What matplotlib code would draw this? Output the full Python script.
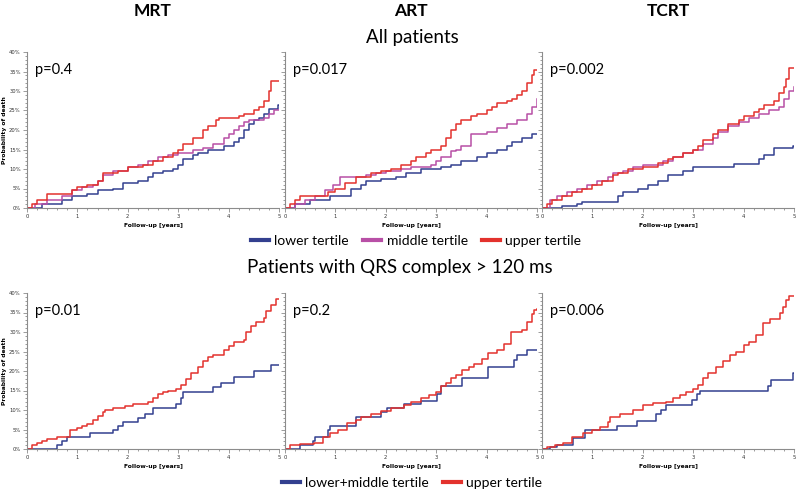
import numpy as np
import matplotlib.pyplot as plt
from matplotlib.ticker import MultipleLocator, FuncFormatter

# ---- data (cumulative probability of death, %, step functions) ----
# All patients, MRT
mrt_low_t = [0, 0.3, 0.7, 0.9, 1.2, 1.4, 1.7, 1.9, 2.2, 2.4, 2.5, 2.7, 2.9, 3.0, 3.1, 3.3, 3.4, 3.6, 3.9, 4.1, 4.2, 4.3, 4.4, 4.5, 4.6, 4.7, 4.8, 4.98, 5.0]
mrt_low_y = [0, 1, 2, 3, 3.5, 4.5, 5, 6.5, 7, 8, 9, 9.5, 10, 11, 12.5, 13.5, 14, 15, 16, 17, 18, 20, 21.5, 22.5, 23, 24, 25.5, 26.5, 26.5]
mrt_mid_t = [0, 0.15, 0.4, 0.7, 0.9, 1.1, 1.3, 1.4, 1.5, 1.7, 2.0, 2.2, 2.4, 2.6, 2.8, 3.0, 3.3, 3.5, 3.7, 3.9, 4.0, 4.1, 4.2, 4.3, 4.4, 4.7, 4.8, 4.9, 5.0]
mrt_mid_y = [0, 1, 2, 3, 4.5, 5.5, 6, 7, 8.5, 9.5, 10.5, 11, 12, 13, 13.5, 14, 15, 15.5, 16.5, 18, 19, 20, 21, 22, 22.5, 23, 24, 25, 25]
mrt_up_t = [0, 0.1, 0.2, 0.4, 0.9, 1.0, 1.2, 1.4, 1.5, 1.8, 2.0, 2.3, 2.5, 2.7, 2.9, 3.0, 3.1, 3.3, 3.5, 3.6, 3.75, 3.8, 4.2, 4.3, 4.5, 4.6, 4.7, 4.8, 4.85, 5.0]
mrt_up_y = [0, 1, 2, 3.5, 4.5, 5.5, 6, 7, 9, 9.5, 10.5, 11, 12, 13, 14, 15, 16.5, 18, 20, 21, 22.5, 23, 23.5, 24, 25, 26, 27.5, 30, 32.5, 32.5]

# All patients, ART
art_low_t = [0, 0.2, 0.5, 0.9, 1.3, 1.5, 1.6, 1.9, 2.2, 2.4, 2.7, 3.1, 3.3, 3.5, 3.8, 4.0, 4.2, 4.4, 4.5, 4.7, 4.9, 5.0]
art_low_y = [0, 1, 2, 3, 5, 6, 7, 7.5, 8, 9, 10, 10.5, 11, 12, 13, 14, 15, 16, 17, 18, 19, 19]
art_mid_t = [0, 0.2, 0.4, 0.6, 0.8, 0.95, 1.1, 1.6, 1.8, 2.0, 2.3, 2.5, 2.9, 3.0, 3.1, 3.3, 3.4, 3.5, 3.7, 4.0, 4.2, 4.4, 4.6, 4.8, 4.9, 5.0]
art_mid_y = [0, 1, 2, 3, 4.5, 6, 8, 8.5, 9, 9.5, 10, 10.5, 11, 12, 13, 14.5, 15, 16, 19, 19.5, 20.5, 21.5, 22.5, 24, 26, 28]
art_up_t = [0, 0.1, 0.2, 0.3, 0.85, 1.0, 1.2, 1.4, 1.7, 1.9, 2.1, 2.3, 2.5, 2.6, 2.8, 2.9, 3.1, 3.2, 3.3, 3.4, 3.5, 3.7, 3.8, 4.0, 4.1, 4.2, 4.4, 4.5, 4.6, 4.7, 4.8, 4.9, 4.95, 5.0]
art_up_y = [0, 1, 2, 3.2, 4, 5, 6.5, 8, 9, 9.5, 10, 11, 12, 13, 14, 15, 16, 18, 20, 21.5, 22.5, 23.5, 24, 25, 26, 27, 27.5, 28, 29, 30, 32, 34, 35.5, 35.5]

# All patients, TCRT
tcrt_low_t = [0, 0.4, 0.7, 0.8, 1.5, 1.6, 1.9, 2.1, 2.3, 2.5, 2.8, 3.0, 3.8, 4.3, 4.4, 4.6, 4.98, 5.0]
tcrt_low_y = [0, 0.5, 1, 1.5, 3, 4, 5, 6, 7, 8.4, 9.5, 10.5, 11.4, 12.5, 13.7, 15.5, 16, 16]
tcrt_mid_t = [0, 0.15, 0.3, 0.5, 0.7, 0.9, 1.1, 1.3, 1.4, 1.6, 1.8, 2.0, 2.4, 2.6, 2.8, 3.0, 3.2, 3.4, 3.5, 3.7, 3.9, 4.1, 4.3, 4.5, 4.7, 4.8, 4.9, 5.0]
tcrt_mid_y = [0, 2, 3, 4, 5, 6, 7, 8, 9, 9.5, 10.5, 11, 12, 13, 14, 15, 16.5, 18, 19.5, 21, 22, 23, 24, 25, 26, 28, 30, 31]
tcrt_up_t = [0, 0.1, 0.2, 0.4, 0.6, 0.8, 1.0, 1.2, 1.4, 1.5, 1.7, 2.0, 2.3, 2.5, 2.6, 2.8, 3.0, 3.1, 3.2, 3.4, 3.5, 3.7, 3.9, 4.0, 4.2, 4.3, 4.4, 4.6, 4.7, 4.8, 4.85, 4.9, 5.0]
tcrt_up_y = [0, 1, 2, 3, 4, 5, 6, 7, 8.5, 9, 10, 10.5, 11.5, 12.5, 13, 14, 15, 16, 17.5, 19, 20, 21.5, 22.5, 23.5, 24.5, 25.5, 26.5, 27.5, 29.5, 31, 33, 36, 36]

# QRS > 120 ms, MRT
qmrt_low_t = [0, 0.6, 0.7, 0.8, 1.25, 1.7, 1.8, 1.9, 2.2, 2.35, 2.5, 2.95, 3.05, 3.1, 3.7, 3.85, 4.1, 4.5, 4.85, 5.0]
qmrt_low_y = [0, 1, 2, 3, 4, 5, 6, 7, 8, 9, 10.5, 11.5, 13, 14.5, 16, 17, 18.5, 20, 21.5, 21.5]
qmrt_up_t = [0, 0.1, 0.2, 0.3, 0.4, 0.6, 0.85, 1.0, 1.1, 1.2, 1.3, 1.4, 1.5, 1.55, 1.7, 1.95, 2.1, 2.4, 2.5, 2.6, 2.7, 2.8, 2.95, 3.05, 3.15, 3.25, 3.4, 3.5, 3.6, 3.7, 3.9, 4.0, 4.1, 4.3, 4.35, 4.45, 4.55, 4.7, 4.75, 4.85, 4.95, 5.0]
qmrt_up_y = [0, 1, 1.5, 2, 2.5, 3, 5, 5.5, 6, 6.5, 7.5, 8.5, 9.5, 10, 10.5, 11, 11.5, 12, 13, 14, 14.5, 15, 15.5, 16.5, 18, 19.5, 21, 22.5, 23.5, 24, 25.5, 26.5, 27.5, 28, 30, 31.5, 32.5, 33.5, 35.5, 37, 38.5, 38.5]

# QRS > 120 ms, ART
qart_low_t = [0, 0.3, 0.55, 0.6, 0.85, 0.9, 1.0, 1.4, 1.9, 2.03, 2.36, 2.7, 3.02, 3.09, 3.52, 4.02, 4.55, 4.6, 4.8, 5.0]
qart_low_y = [0, 1, 2, 3, 5, 6, 6, 8.3, 9.4, 10.4, 11.5, 12.4, 14.2, 16.1, 18.3, 20.9, 22.8, 24, 25.5, 25.5]
qart_up_t = [0, 0.1, 0.3, 0.57, 0.75, 0.9, 1.05, 1.23, 1.4, 1.5, 1.7, 1.9, 2.1, 2.36, 2.5, 2.7, 2.85, 3.0, 3.09, 3.2, 3.29, 3.4, 3.52, 3.65, 3.75, 3.9, 4.02, 4.2, 4.35, 4.48, 4.71, 4.81, 4.9, 4.95, 5.0]
qart_up_y = [0, 1, 1.3, 1.6, 3, 4, 5, 6.6, 7.5, 8.3, 9, 9.8, 10.5, 11.3, 12, 13, 13.8, 14.7, 16.1, 17, 18.1, 19, 20.2, 21, 21.9, 23, 24.5, 25.5, 27, 30, 30.5, 32.6, 34.5, 35.6, 36]

# QRS > 120 ms, TCRT
qtcrt_low_t = [0, 0.15, 0.3, 0.62, 0.85, 1.48, 1.88, 2.27, 2.37, 2.47, 2.97, 3.07, 3.13, 4.49, 4.55, 4.98, 5.0]
qtcrt_low_y = [0, 0.5, 1, 2.7, 4.9, 6, 7.2, 9.1, 10.1, 11.3, 12.5, 14.2, 14.9, 16.1, 17.7, 19.4, 19.4]
qtcrt_up_t = [0, 0.1, 0.25, 0.42, 0.6, 0.82, 1.0, 1.15, 1.3, 1.35, 1.55, 1.8, 2.0, 2.2, 2.47, 2.6, 2.73, 2.85, 3.0, 3.1, 3.2, 3.3, 3.46, 3.6, 3.73, 3.85, 4.0, 4.1, 4.25, 4.38, 4.52, 4.73, 4.78, 4.85, 4.9, 5.0]
qtcrt_up_y = [0, 0.5, 1, 1.5, 3, 4, 4.8, 5.7, 7, 8.3, 9.1, 10, 11.3, 11.8, 12.1, 13, 13.8, 14.5, 15.5, 16.5, 18.1, 19.5, 21.1, 22.5, 24, 25, 26.6, 27.5, 29.2, 32.3, 33.4, 35, 36.5, 38.1, 39.2, 39.2]

columns = ['MRT', 'ART', 'TCRT']
p_top = ['p=0.4', 'p=0.017', 'p=0.002']
p_bottom = ['p=0.01', 'p=0.2', 'p=0.006']

c_low = '#33408f'
c_mid = '#b84fa6'
c_up = '#e3322d'

top_curves = [
    [(mrt_low_t, mrt_low_y, c_low), (mrt_mid_t, mrt_mid_y, c_mid), (mrt_up_t, mrt_up_y, c_up)],
    [(art_low_t, art_low_y, c_low), (art_mid_t, art_mid_y, c_mid), (art_up_t, art_up_y, c_up)],
    [(tcrt_low_t, tcrt_low_y, c_low), (tcrt_mid_t, tcrt_mid_y, c_mid), (tcrt_up_t, tcrt_up_y, c_up)],
]
bottom_curves = [
    [(qmrt_low_t, qmrt_low_y, c_low), (qmrt_up_t, qmrt_up_y, c_up)],
    [(qart_low_t, qart_low_y, c_low), (qart_up_t, qart_up_y, c_up)],
    [(qtcrt_low_t, qtcrt_low_y, c_low), (qtcrt_up_t, qtcrt_up_y, c_up)],
]

fig = plt.figure(figsize=(8, 4.95), dpi=100)
lefts = [27 / 800, 285 / 800, 542 / 800]
width = 252 / 800
height = 156 / 495
bottoms = [1 - 208 / 495, 1 - 449 / 495]

pct = FuncFormatter(lambda v, pos: '%d%%' % v)


def style_axis(ax, first, ptxt):
    ax.set_xlim(0, 5)
    ax.set_ylim(0, 40)
    for s in ['top', 'right']:
        ax.spines[s].set_visible(False)
    for s in ['left', 'bottom']:
        ax.spines[s].set_color('#8c8c8c')
        ax.spines[s].set_linewidth(0.8)
    ax.xaxis.set_major_locator(MultipleLocator(1))
    ax.xaxis.set_minor_locator(MultipleLocator(0.2))
    ax.yaxis.set_major_locator(MultipleLocator(5))
    ax.yaxis.set_minor_locator(MultipleLocator(1))
    ax.tick_params(which='both', color='#8c8c8c', width=0.6, labelsize=3.8, pad=1.5,
                   labelcolor='#333333')
    ax.tick_params(which='major', length=3)
    ax.tick_params(which='minor', length=1.5)
    ax.yaxis.set_major_formatter(pct)
    if not first:
        ax.set_yticklabels([])
    else:
        ax.set_ylabel('Probability of death', fontsize=4.3, fontweight='bold', labelpad=1.5)
    ax.set_xlabel('Follow-up [years]', fontsize=4.3, fontweight='bold', labelpad=3)
    ax.text(0.03, 0.86, ptxt, transform=ax.transAxes, fontsize=10.5, family='Lato')


for i in range(3):
    ax = fig.add_axes([lefts[i], bottoms[0], width, height])
    for t, y, c in top_curves[i]:
        ax.plot(t, y, drawstyle='steps-post', color=c, lw=1.1)
    style_axis(ax, i == 0, p_top[i])
    fig.text(lefts[i] + width / 2, 1 - 11 / 495, columns[i], ha='center', va='center',
             fontsize=12.5, fontweight='bold', family='Lato')

    ax = fig.add_axes([lefts[i], bottoms[1], width, height])
    for t, y, c in bottom_curves[i]:
        ax.plot(t, y, drawstyle='steps-post', color=c, lw=1.1)
    style_axis(ax, i == 0, p_bottom[i])

fig.text(0.515, 1 - 37 / 495, 'All patients', ha='center', va='center', fontsize=13.5, family='Lato')
fig.text(0.5, 1 - 267 / 495, 'Patients with QRS complex > 120 ms', ha='center', va='center',
         fontsize=13.5, family='Lato')

h1 = [plt.Line2D([], [], color=c, lw=3) for c in (c_low, c_mid, c_up)]
fig.legend(h1, ['lower tertile', 'middle tertile', 'upper tertile'], loc='center',
           bbox_to_anchor=(0.52, 1 - 241 / 495), ncol=3, frameon=False,
           prop={'family': 'Lato', 'size': 10}, handlelength=1.3, handletextpad=0.4, columnspacing=1.0)
h2 = [plt.Line2D([], [], color=c, lw=3) for c in (c_low, c_up)]
fig.legend(h2, ['lower+middle tertile', 'upper tertile'], loc='center',
           bbox_to_anchor=(0.515, 1 - 483 / 495), ncol=2, frameon=False,
           prop={'family': 'Lato', 'size': 10}, handlelength=1.3, handletextpad=0.4, columnspacing=1.0)

fig.savefig('out.png', dpi=100)
